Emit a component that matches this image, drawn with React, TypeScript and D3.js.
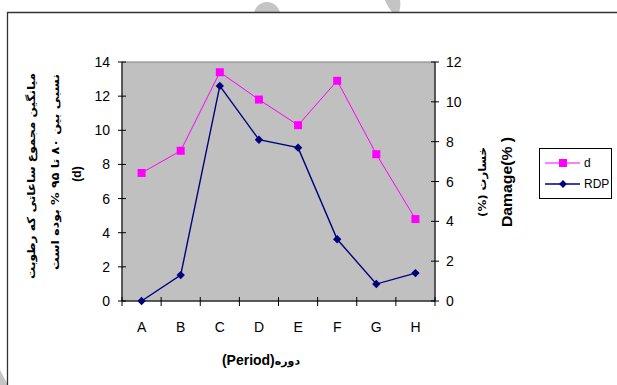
import React from "react";
import * as d3 from "d3";

// Periods on the x axis
const categories = ["A", "B", "C", "D", "E", "F", "G", "H"];
// d: hours with high relative humidity (left axis)
const dValues = [7.5, 8.8, 13.4, 11.8, 10.3, 12.9, 8.6, 4.8];
// RDP: damage percentage (right axis)
const rdpValues = [0, 1.3, 10.8, 8.1, 7.7, 3.1, 0.85, 1.4];
const leftTicks = [0, 2, 4, 6, 8, 10, 12, 14];
const rightTicks = [0, 2, 4, 6, 8, 10, 12];

const W = 617;
const H = 385;
const plot = { left: 122, right: 435, top: 62, bottom: 301 };
const latin = "'Liberation Sans', Arial, sans-serif";
const persian = "'DejaVu Sans', 'Liberation Sans', sans-serif";

export default function App() {
  const x = d3
    .scaleBand<string>()
    .domain(categories)
    .range([plot.left, plot.right])
    .paddingInner(0)
    .paddingOuter(0);
  const yL = d3.scaleLinear().domain([0, 14]).range([plot.bottom, plot.top]);
  const yR = d3.scaleLinear().domain([0, 12]).range([plot.bottom, plot.top]);
  const cx = (c: string) => (x(c) as number) + x.bandwidth() / 2;

  const dLine = d3
    .line<number>()
    .x((_, i) => cx(categories[i]))
    .y((v) => yL(v));
  const rLine = d3
    .line<number>()
    .x((_, i) => cx(categories[i]))
    .y((v) => yR(v));

  const boundaries = categories.map((c) => x(c) as number).concat([plot.right]);
  const diamond = (px: number, py: number, r: number) =>
    `M${px},${py - r}L${px + r},${py}L${px},${py + r}L${px - r},${py}Z`;

  return (
    <div style={{ position: "fixed", left: 0, top: 0 }}>
      <svg width={W} height={H} style={{ display: "block" }}>
        <rect x={0} y={0} width={W} height={H} fill="#fff" />
        {/* faint decorative fragments outside the frame */}
        <circle cx={267} cy={15} r={13} fill="#c4c4c4" />
        <path d="M385,0 Q388,8 393,13 L399,13 Q401,5 400,0 Z" fill="#c4c4c4" />
        <path d="M0,370 L8,385 L0,385 Z" fill="#c4c4c4" />
        <rect x={7} y={12} width={W} height={H} fill="#fff" />
        <line x1={7} y1={12.5} x2={W} y2={12.5} stroke="#333" strokeWidth={1.3} />
        <line x1={7.5} y1={12} x2={7.5} y2={H} stroke="#333" strokeWidth={1.3} />

        {/* plot area */}
        <rect
          x={plot.left}
          y={plot.top}
          width={plot.right - plot.left}
          height={plot.bottom - plot.top}
          fill="#c0c0c0"
          stroke="#808080"
          strokeWidth={1}
        />

        {/* left axis */}
        <line x1={plot.left} y1={plot.top} x2={plot.left} y2={plot.bottom} stroke="#000" />
        {leftTicks.map((t) => (
          <g key={"l" + t}>
            <line x1={plot.left - 4} x2={plot.left + 4} y1={yL(t)} y2={yL(t)} stroke="#000" />
            <text
              x={110}
              y={yL(t)}
              dy="0.36em"
              textAnchor="end"
              fontFamily={latin}
              fontSize={14}
              fill="#000"
            >
              {t}
            </text>
          </g>
        ))}

        {/* right axis */}
        <line x1={plot.right} y1={plot.top} x2={plot.right} y2={plot.bottom} stroke="#000" />
        {rightTicks.map((t) => (
          <g key={"r" + t}>
            <line x1={plot.right - 4} x2={plot.right + 4} y1={yR(t)} y2={yR(t)} stroke="#000" />
            <text
              x={446}
              y={yR(t)}
              dy="0.36em"
              textAnchor="start"
              fontFamily={latin}
              fontSize={14}
              fill="#000"
            >
              {t}
            </text>
          </g>
        ))}

        {/* bottom axis */}
        <line x1={plot.left} y1={plot.bottom} x2={plot.right} y2={plot.bottom} stroke="#000" />
        {boundaries.map((b, i) => (
          <line key={"b" + i} x1={b} x2={b} y1={plot.bottom - 4} y2={plot.bottom + 5} stroke="#000" />
        ))}
        {categories.map((c) => (
          <text
            key={"c" + c}
            x={cx(c)}
            y={332}
            textAnchor="middle"
            fontFamily={latin}
            fontSize={14}
            fill="#000"
          >
            {c}
          </text>
        ))}

        {/* series */}
        <path d={rLine(rdpValues) || ""} fill="none" stroke="#000080" strokeWidth={1.4} />
        <path d={dLine(dValues) || ""} fill="none" stroke="#ff00ff" strokeWidth={1} />
        {dValues.map((v, i) => (
          <rect
            key={"dm" + i}
            x={cx(categories[i]) - 4}
            y={yL(v) - 4}
            width={8}
            height={8}
            fill="#ff00ff"
          />
        ))}
        {rdpValues.map((v, i) => (
          <path key={"rm" + i} d={diamond(cx(categories[i]), yR(v), 4.2)} fill="#000080" />
        ))}

        {/* axis titles */}
        <text
          x={261}
          y={365}
          textAnchor="middle"
          fontFamily={latin}
          fontWeight="bold"
          fontSize={14}
          fill="#000"
        >
          <tspan>(Period)</tspan>
          <tspan fontFamily={persian} fontSize={11}>دوره</tspan>
        </text>

        <g fontFamily={persian} fontWeight="bold" fill="#000">
          <text
            transform="translate(31,176) rotate(-90)"
            textAnchor="middle"
            dominantBaseline="central"
            direction="rtl"
            fontSize={11}
            textLength={206}
            lengthAdjust="spacingAndGlyphs"
          >
            میانگین مجموع ساعاتی که رطوبت
          </text>
          <text
            transform="translate(55,172) rotate(-90)"
            textAnchor="middle"
            dominantBaseline="central"
            direction="rtl"
            fontSize={11}
            textLength={196}
            lengthAdjust="spacingAndGlyphs"
          >
            نسبی بین ۸۰ تا ۹۵ % بوده است
          </text>
          <text
            transform="translate(77,174) rotate(-90)"
            textAnchor="middle"
            dominantBaseline="central"
            fontFamily={latin}
            fontSize={12}
          >
            (d)
          </text>
        </g>

        <text
          transform="translate(482,182) rotate(-90)"
          textAnchor="middle"
          dominantBaseline="central"
          fontFamily={persian}
          fontWeight="bold"
          fontSize={11}
          textLength={70}
          lengthAdjust="spacingAndGlyphs"
          fill="#000"
        >
          (%) خسارت
        </text>
        <text
          transform="translate(507,182) rotate(-90)"
          textAnchor="middle"
          dominantBaseline="central"
          fontFamily={latin}
          fontWeight="bold"
          fontSize={14}
          textLength={90}
          lengthAdjust="spacingAndGlyphs"
          fill="#000"
        >
          Damage(% )
        </text>

        {/* legend */}
        <rect x={539.5} y={148.5} width={72} height={50} fill="#fff" stroke="#000" strokeWidth={1} />
        <line x1={545} x2={580} y1={163} y2={163} stroke="#ff00ff" strokeWidth={1} />
        <rect x={559} y={159} width={8} height={8} fill="#ff00ff" />
        <text x={584} y={163} dy="0.36em" fontFamily={latin} fontSize={12} fill="#000">
          d
        </text>
        <line x1={545} x2={580} y1={184} y2={184} stroke="#000080" strokeWidth={1.4} />
        <path d={diamond(563, 184, 4)} fill="#000080" />
        <text x={584} y={184} dy="0.36em" fontFamily={latin} fontSize={12} fill="#000">
          RDP
        </text>
      </svg>
    </div>
  );
}
